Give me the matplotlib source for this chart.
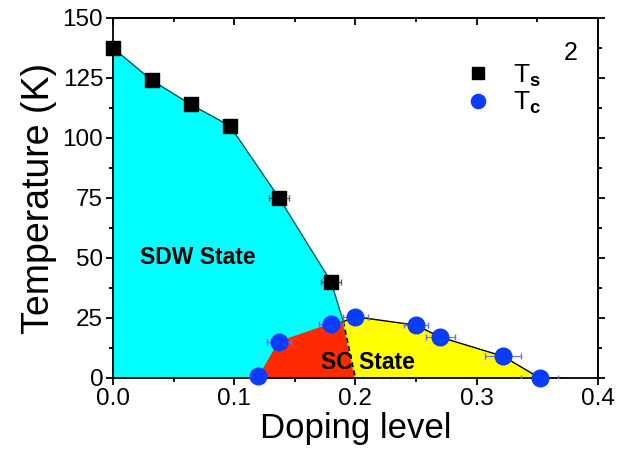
import numpy as np
import matplotlib
matplotlib.use('Agg')
import matplotlib.pyplot as plt

plt.rcParams['font.family'] = ['Liberation Sans', 'DejaVu Sans']
plt.rcParams['mathtext.fontset'] = 'custom'
plt.rcParams['mathtext.rm'] = 'Liberation Sans'
plt.rcParams['mathtext.bf'] = 'Liberation Sans:bold'

# structural transition Ts
ts_x = [0.0, 0.032, 0.064, 0.0965, 0.137, 0.18]
ts_T = [137.5, 124, 114, 105, 75, 40]
ts_xerr = [0, 0, 0, 0, 0.008, 0.008]

# superconducting Tc
tc_x = [0.12, 0.137, 0.18, 0.2, 0.25, 0.27, 0.322, 0.352]
tc_T = [1, 15, 22.5, 25.5, 22, 17, 9, 0]
tc_xerr = [0, 0.01, 0.01, 0.01, 0.01, 0.012, 0.015, 0.015]

# where SDW boundary meets SC dome, and SDW end at T=0
junc_x, junc_T = 0.19, 23.5
sdw_end = 0.2
tail_x = 0.37

fig = plt.figure(figsize=(6.17, 4.59), dpi=100)
ax = fig.add_axes([0.183, 0.1765, 0.786, 0.7845])

# SDW region (cyan)
cx = [0.0] + ts_x + [junc_x] + [tc_x[2], tc_x[1], tc_x[0]] + [0.0]
cy = [0.0] + ts_T + [junc_T] + [tc_T[2], tc_T[1], 0.0] + [0.0]
ax.fill(cx, cy, color='#00ffff', zorder=1)

# SC region under SDW (red)
rx = [tc_x[0], tc_x[1], tc_x[2], junc_x, sdw_end]
ry = [0.0, tc_T[1], tc_T[2], junc_T, 0.0]
ax.fill(rx, ry, color='#ff2a00', zorder=1)

# SC region (yellow)
yx = [junc_x] + tc_x[3:] + [sdw_end]
yy = [junc_T] + tc_T[3:] + [0.0]
ax.fill(yx, yy, color='#ffff00', zorder=1)

# boundaries
ax.plot(ts_x + [junc_x], ts_T + [junc_T], color='#0a4a4a', lw=0.9, zorder=2)
ax.plot([junc_x] + tc_x[3:] + [tail_x], [junc_T] + tc_T[3:] + [0.0], color='black', lw=1.0, zorder=2)
ax.plot([junc_x, sdw_end], [junc_T, 0.0], color='black', lw=1.2, ls=(0, (3, 2)), zorder=2)

# error bars
ax.errorbar(ts_x, ts_T, xerr=ts_xerr, fmt='none', ecolor='#555555', elinewidth=0.8, capsize=2, zorder=3)
ax.errorbar(tc_x, tc_T, xerr=tc_xerr, fmt='none', ecolor='#6a6aff', elinewidth=0.8, capsize=2, zorder=3)

ax.plot(ts_x, ts_T, 's', color='black', ms=10, zorder=4, clip_on=False, label='T$_{\\mathbf{s}}$')
ax.plot(tc_x, tc_T, 'o', color='#0a3cff', ms=12, zorder=4, clip_on=False, label='T$_{\\mathbf{c}}$')

ax.text(0.07, 50, 'SDW State', fontsize=16.5, fontweight='bold', ha='center', va='center', zorder=5)
ax.text(0.21, 6.5, 'SC State', fontsize=16.5, fontweight='bold', ha='center', va='center', zorder=5)
ax.text(0.383, 135.5, '2', fontsize=18, ha='right', va='center')

ax.set_xlim(0, 0.4)
ax.set_ylim(0, 150)
xmaj = np.arange(0, 0.41, 0.1)
xmin = np.arange(0.05, 0.4, 0.1)
ymaj = np.arange(0, 151, 25)
ymin = np.arange(12.5, 150, 25)
ax.set_xticks(xmaj)
ax.set_xticks(xmin, minor=True)
ax.set_yticks(ymaj)
ax.set_yticks(ymin, minor=True)
ax.xaxis.set_major_formatter(matplotlib.ticker.FormatStrFormatter('%.1f'))
ax.tick_params(which='both', direction='out', labelsize=17.5, width=1.3, pad=2)
ax.tick_params(which='major', length=5)
ax.tick_params(which='minor', length=3)
for s in ax.spines.values():
    s.set_linewidth(1.3)

# mirrored ticks: top inward, right outward
top = ax.secondary_xaxis('top')
top.set_xticks(xmaj)
top.set_xticks(xmin, minor=True)
top.tick_params(which='both', direction='in', labeltop=False, width=1.3)
top.tick_params(which='major', length=5)
top.tick_params(which='minor', length=3)
top.spines['top'].set_linewidth(1.3)
right = ax.secondary_yaxis('right')
right.set_yticks(ymaj)
right.set_yticks(ymin, minor=True)
right.tick_params(which='both', direction='out', labelright=False, width=1.3)
right.tick_params(which='major', length=5)
right.tick_params(which='minor', length=3)
right.spines['right'].set_linewidth(1.3)

ax.set_xlabel('Doping level', fontsize=25, labelpad=2)
ax.set_ylabel('Temperature (K)', fontsize=27, labelpad=4)

leg = ax.legend(loc='upper left', bbox_to_anchor=(0.676, 0.942), frameon=False, fontsize=19,
                handletextpad=0.83, labelspacing=0.03, markerscale=0.85, handlelength=1.0)

fig.savefig('out.png', dpi=100)
